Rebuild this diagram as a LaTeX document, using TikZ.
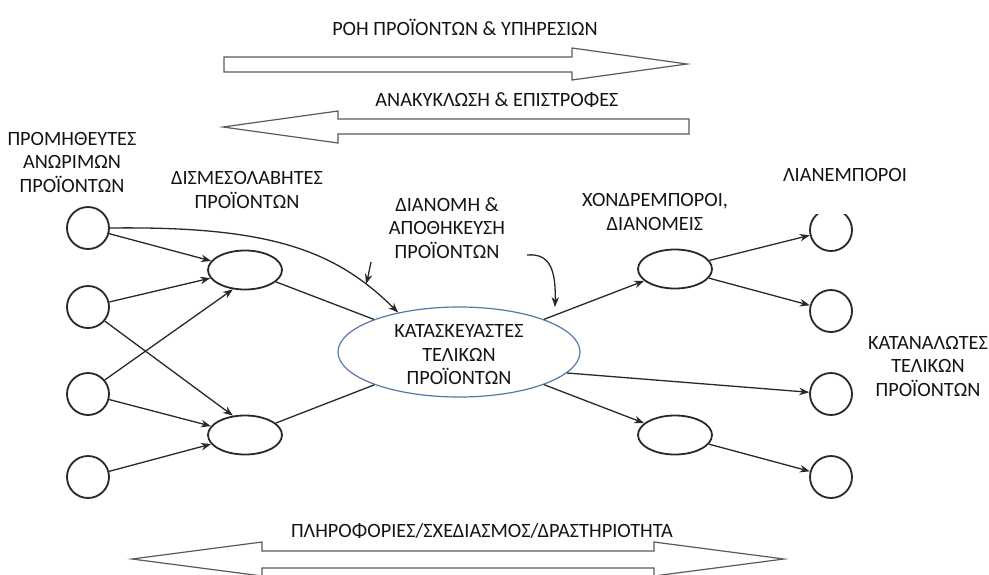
\documentclass[tikz,border=0pt]{standalone}
\usepackage{fontspec}
\setmainfont{Carlito}
\usetikzlibrary{arrows.meta,shapes.geometric}
\definecolor{lineC}{RGB}{40,40,40}
\definecolor{blockC}{RGB}{90,90,90}
\definecolor{bigC}{RGB}{85,120,165}
\definecolor{txtC}{RGB}{20,20,20}
\tikzset{
  circnode/.style={circle,draw=lineC,line width=1.8pt,minimum size=42pt,inner sep=0pt},
  ellnode/.style={ellipse,draw=lineC,line width=1.8pt,minimum width=74pt,minimum height=39pt,inner sep=0pt},
  bignode/.style={ellipse,draw=bigC,line width=1.2pt,minimum width=242pt,minimum height=90pt,inner sep=0pt},
  lbl/.style={text=txtC,align=center,inner sep=0pt,font=\fontsize{20.3}{23.5}\selectfont},
  conn/.style={draw=lineC,line width=1.3pt},
  arr/.style={conn,-{Stealth[length=10pt,width=7.5pt]}},
  blockarrow/.style={draw=blockC,line width=1.2pt,fill=white},
}
\begin{document}
\begin{tikzpicture}[x=1pt,y=-1pt]
\useasboundingbox (0,0) rectangle (989,574);

% block arrows
\draw[blockarrow] (224,57) -- (572,57) -- (572,48) -- (687,64) -- (572,80) -- (572,72) -- (224,72) -- cycle;
\draw[blockarrow] (689,119) -- (338,119) -- (338,111) -- (223,127) -- (338,143) -- (338,134) -- (689,134) -- cycle;
\draw[blockarrow] (262,551) -- (654,551) -- (654,542) -- (784,559) -- (654,576) -- (654,568) -- (262,568) -- (262,576) -- (132,559) -- (262,542) -- cycle;

% flow labels
\node[lbl] (t1) at (465,27) {ΡΟΗ ΠΡΟΪΟΝΤΩΝ \& ΥΠΗΡΕΣΙΩΝ};
\node[lbl] (t2) at (497,100) {ΑΝΑΚΥΚΛΩΣΗ \& ΕΠΙΣΤΡΟΦΕΣ};
\node[lbl] (t3) at (482,531) {ΠΛΗΡΟΦΟΡΙΕΣ/ΣΧΕΔΙΑΣΜΟΣ/ΔΡΑΣΤΗΡΙΟΤΗΤΑ};

% nodes
\node[circnode] (L1) at (88,228) {};
\node[circnode] (L2) at (88,307) {};
\node[circnode] (L3) at (88,394) {};
\node[circnode] (L4) at (88,477) {};
\node[ellnode] (M1) at (245,270) {};
\node[ellnode] (M2) at (245,435) {};
\node[bignode] (Big) at (459,352) {};
\node[lbl] (BigTxt) at (459,355) {ΚΑΤΑΣΚΕΥΑΣΤΕΣ\\ΤΕΛΙΚΩΝ\\ΠΡΟΪΟΝΤΩΝ};
\node[ellnode] (M3) at (675,269) {};
\node[ellnode] (M4) at (675,435) {};
\node[circnode] (R1) at (831,230) {};
\node[circnode] (R2) at (831,311) {};
\node[circnode] (R3) at (831,394) {};
\node[circnode] (R4) at (831,477) {};

% labels
\node[lbl] (sup) at (72,162) {ΠΡΟΜΗΘΕΥΤΕΣ\\ΑΝΩΡΙΜΩΝ\\ΠΡΟΪΟΝΤΩΝ};
\node[lbl] (dism) at (247,190) {ΔΙΣΜΕΣΟΛΑΒΗΤΕΣ\\ΠΡΟΪΟΝΤΩΝ};
\node[lbl] (dian) at (447,228) {ΔΙΑΝΟΜΗ \&\\ΑΠΟΘΗΚΕΥΣΗ\\ΠΡΟΪΟΝΤΩΝ};
\node[lbl] (chon) at (655,212) {ΧΟΝΔΡΕΜΠΟΡΟΙ,\\ΔΙΑΝΟΜΕΙΣ};
\node[lbl,fill=white,minimum height=78pt,minimum width=136pt] (lian) at (845,175) {ΛΙΑΝΕΜΠΟΡΟΙ};
\node[lbl] (kat) at (928,366) {ΚΑΤΑΝΑΛΩΤΕΣ\\ΤΕΛΙΚΩΝ\\ΠΡΟΪΟΝΤΩΝ};

% connectors left
\draw[arr] (L1) -- (M1);
\draw[arr] (L2) -- (M1);
\draw[arr] (L3.40) -- (M1.238);
\draw[arr] (L2.-40) -- (M2.122);
\draw[arr] (L3) -- (M2);
\draw[arr] (L4) -- (M2);
\draw[conn] (M1) -- (Big);
\draw[conn] (M2) -- (Big);
\draw[arr] (L1.east) .. controls (270,226) and (335,250) .. (Big.147);

% connectors right
\draw[arr] (Big) -- (M3);
\draw[arr] (Big) -- (M4);
\draw[arr] (Big.-11) -- (R3);
\draw[arr] (M3) -- (R1);
\draw[arr] (M3) -- (R2);
\draw[arr] (M4) -- (R4);

% small pointer arrows
\coordinate (s1a) at (371,262);
\coordinate (s1b) at (366,284);
\draw[arr] (s1a) .. controls (370,270) .. (s1b);
\coordinate (s2a) at (527,255);
\coordinate (s2b) at (555,307);
\draw[arr] (s2a) .. controls (550,253) and (556,270) .. (s2b);
\end{tikzpicture}
\end{document}
